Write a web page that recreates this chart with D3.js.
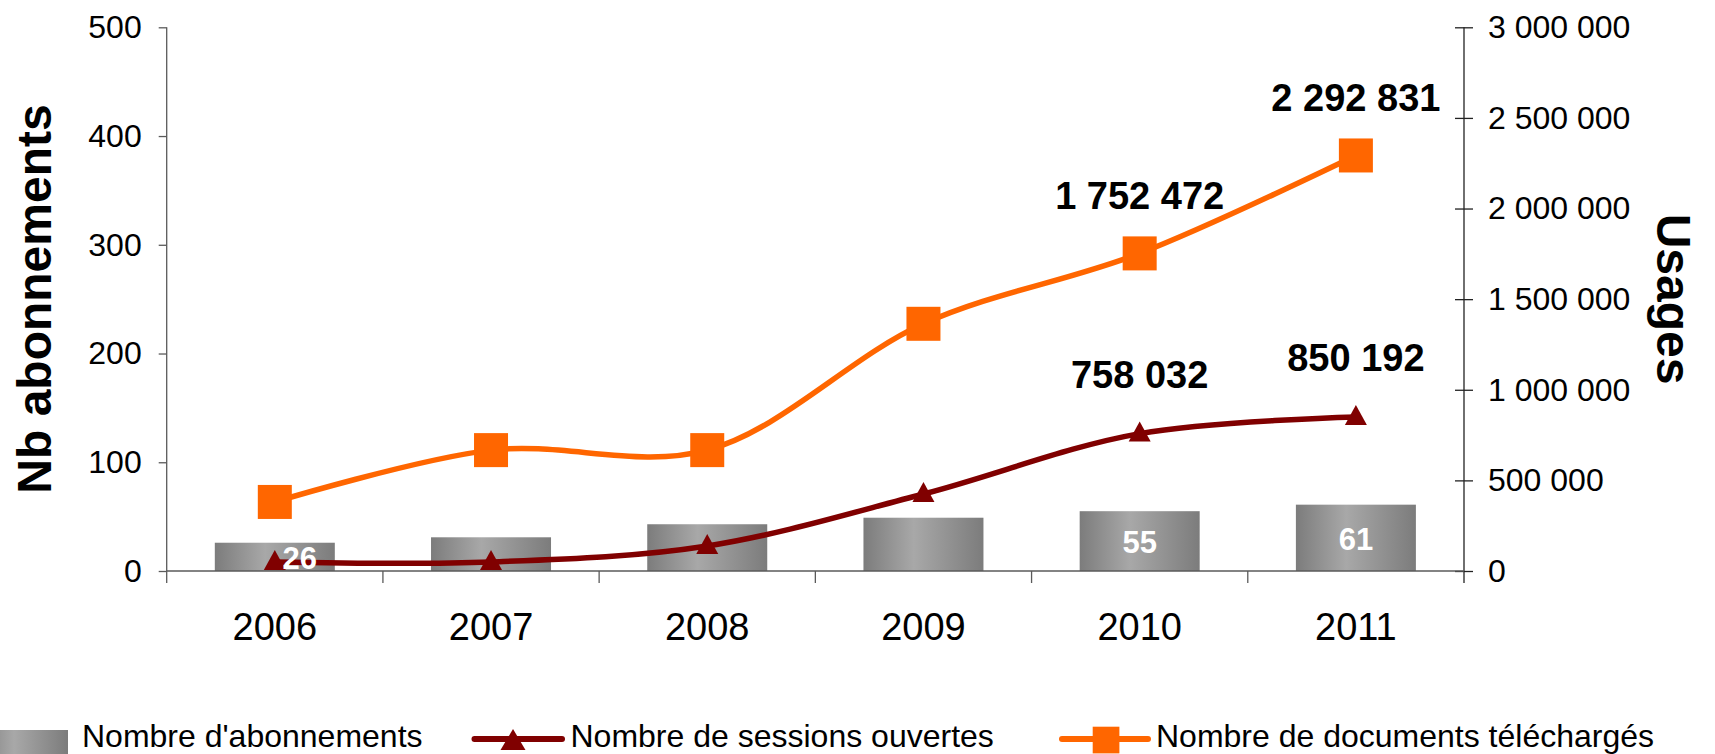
<!DOCTYPE html>
<html>
<head>
<meta charset="utf-8">
<script src="https://cdn.jsdelivr.net/npm/d3@7"></script>
<style>
  html, body { margin: 0; padding: 0; background: #fff; }
  svg { display: block; font-family: "Liberation Sans", Arial, sans-serif; }
</style>
</head>
<body>
<svg id="chart" width="1715" height="754"></svg>
<script>
// ---- data ----
const years = ["2006", "2007", "2008", "2009", "2010", "2011"];
const abonnements = [26, 31, 43, 49, 55, 61];
const abonnementsLabels = ["26", "", "", "", "55", "61"];
const sessions = [50000, 50000, 138000, 425000, 758032, 850192];
const sessionsLabels = ["", "", "", "", "758 032", "850 192"];
const documents = [381000, 667000, 667000, 1364000, 1752472, 2292831];
const documentsLabels = ["", "", "", "", "1 752 472", "2 292 831"];
const leftTicks = [0, 100, 200, 300, 400, 500];
const rightTicks = [0, 500000, 1000000, 1500000, 2000000, 2500000, 3000000];
const legendLabels = ["Nombre d'abonnements", "Nombre de sessions ouvertes", "Nombre de documents téléchargés"];
const leftTitle = "Nb abonnements";
const rightTitle = "Usages";

(function () {
// ---- layout ----
const pLeft = 166.7, pRight = 1464, pTop = 27.3, pBottom = 571;
const svg = d3.select("#chart");

const x = d3.scaleBand().domain(years).range([pLeft, pRight]).paddingInner(0).paddingOuter(0);
const yL = d3.scaleLinear().domain([0, 500]).range([pBottom, pTop]);
const yR = d3.scaleLinear().domain([0, 3000000]).range([pBottom, pTop]);
const cx = d => x(d) + x.bandwidth() / 2;
const fmtSpace = v => d3.format(",")(v).replace(/,/g, " ");

// gradients
const defs = svg.append("defs");
const g1 = defs.append("linearGradient").attr("id", "barGrad").attr("x1", "0%").attr("x2", "100%").attr("y1", "0%").attr("y2", "0%");
g1.append("stop").attr("offset", "0%").attr("stop-color", "#7c7c7c");
g1.append("stop").attr("offset", "42%").attr("stop-color", "#a8a8a8");
g1.append("stop").attr("offset", "100%").attr("stop-color", "#7c7c7c");

// ---- bars ----
const barW = 120;
svg.append("g").selectAll("rect").data(years).join("rect")
  .attr("x", d => cx(d) - barW / 2)
  .attr("width", barW)
  .attr("y", (d, i) => yL(abonnements[i]))
  .attr("height", (d, i) => yL(0) - yL(abonnements[i]))
  .attr("fill", "url(#barGrad)");

// ---- axes ----
const axisColor = "#5a5a5a";
const gl = svg.append("g").attr("transform", `translate(${pLeft},0)`)
  .call(d3.axisLeft(yL).tickValues(leftTicks).tickSize(8).tickPadding(17).tickFormat(d3.format("d")));
gl.select(".domain").remove();
gl.selectAll(".tick line").attr("stroke", axisColor).attr("stroke-width", 1.3);
gl.selectAll(".tick text").attr("font-size", 32).attr("fill", "#000").attr("font-family", "Liberation Sans, Arial, sans-serif");
svg.append("line").attr("x1", pLeft).attr("x2", pLeft).attr("y1", pTop).attr("y2", pBottom + 12)
  .attr("stroke", axisColor).attr("stroke-width", 1.3);

const gr = svg.append("g").attr("transform", `translate(${pRight},0)`)
  .call(d3.axisRight(yR).tickValues(rightTicks).tickSize(9).tickPadding(15).tickFormat(fmtSpace));
gr.select(".domain").remove();
gr.selectAll(".tick line").attr("x1", -9).attr("x2", 9).attr("stroke", "#222").attr("stroke-width", 1.3);
gr.selectAll(".tick text").attr("font-size", 32).attr("fill", "#000").attr("font-family", "Liberation Sans, Arial, sans-serif");
svg.append("line").attr("x1", pRight).attr("x2", pRight).attr("y1", pTop).attr("y2", pBottom + 12)
  .attr("stroke", "#222").attr("stroke-width", 1.3);

svg.append("line").attr("x1", pLeft).attr("x2", pRight).attr("y1", pBottom).attr("y2", pBottom)
  .attr("stroke", axisColor).attr("stroke-width", 1.5);
svg.append("g").selectAll("line").data(years.slice(1)).join("line")
  .attr("x1", d => x(d)).attr("x2", d => x(d))
  .attr("y1", pBottom).attr("y2", pBottom + 12)
  .attr("stroke", axisColor).attr("stroke-width", 1.3);
svg.append("g").selectAll("text").data(years).join("text")
  .attr("x", d => cx(d)).attr("y", 640)
  .attr("text-anchor", "middle").attr("font-size", 38).attr("fill", "#000")
  .text(d => d);

svg.append("text").attr("transform", `translate(51,299) rotate(-90)`)
  .attr("text-anchor", "middle").attr("font-size", 48).attr("font-weight", "bold").text(leftTitle);
svg.append("text").attr("transform", `translate(1657,299) rotate(90)`)
  .attr("text-anchor", "middle").attr("font-size", 48).attr("font-weight", "bold").text(rightTitle);

// ---- lines ----
const curve = d3.curveCatmullRom.alpha(0.5);
const lineR = d3.line().x(d => cx(d[0])).y(d => yR(d[1])).curve(curve);
const sessPts = years.map((y, i) => [y, sessions[i]]);
const docPts = years.map((y, i) => [y, documents[i]]);

svg.append("path").attr("d", lineR(sessPts)).attr("fill", "none")
  .attr("stroke", "#800000").attr("stroke-width", 5.5).attr("stroke-linejoin", "round");
svg.append("g").selectAll("path").data(sessPts).join("path")
  .attr("transform", d => `translate(${cx(d[0])},${yR(d[1])})`)
  .attr("d", "M0,-12L11,8L-11,8Z").attr("fill", "#800000");

svg.append("path").attr("d", lineR(docPts)).attr("fill", "none")
  .attr("stroke", "#FF6600").attr("stroke-width", 5.5).attr("stroke-linejoin", "round");
const sq = 34;
svg.append("g").selectAll("rect").data(docPts).join("rect")
  .attr("x", d => cx(d[0]) - sq / 2).attr("y", d => yR(d[1]) - sq / 2)
  .attr("width", sq).attr("height", sq).attr("fill", "#FF6600");

// ---- data labels ----
svg.append("g").selectAll("text").data(years).join("text")
  .attr("x", d => cx(d)).attr("y", (d, i) => yR(sessions[i]) - 46)
  .attr("text-anchor", "middle").attr("font-size", 38).attr("font-weight", "bold")
  .text((d, i) => sessionsLabels[i]);
svg.append("g").selectAll("text").data(years).join("text")
  .attr("x", d => cx(d)).attr("y", (d, i) => yR(documents[i]) - 44)
  .attr("text-anchor", "middle").attr("font-size", 38).attr("font-weight", "bold")
  .text((d, i) => documentsLabels[i]);
svg.append("g").selectAll("text").data(years).join("text")
  .attr("x", (d, i) => cx(d) + (i === 0 ? 25 : 0))
  .attr("y", (d, i) => (yL(abonnements[i]) + yL(0)) / 2 + 12)
  .attr("text-anchor", "middle").attr("font-size", 31).attr("font-weight", "bold").attr("fill", "#fff")
  .text((d, i) => abonnementsLabels[i]);

// ---- legend ----
const lg = svg.append("g");
lg.append("rect").attr("x", -25).attr("y", 730).attr("width", 93).attr("height", 30).attr("fill", "url(#barGrad)");
lg.append("text").attr("x", 82).attr("y", 747).attr("font-size", 32).text(legendLabels[0]);

lg.append("line").attr("x1", 474.5).attr("x2", 562).attr("y1", 739).attr("y2", 739)
  .attr("stroke", "#800000").attr("stroke-width", 6).attr("stroke-linecap", "round");
lg.append("path").attr("transform", "translate(513,742)").attr("d", "M0,-13L12.5,8L-12.5,8Z").attr("fill", "#800000");
lg.append("text").attr("x", 570.5).attr("y", 747).attr("font-size", 32).text(legendLabels[1]);

lg.append("line").attr("x1", 1062).attr("x2", 1148).attr("y1", 739).attr("y2", 739)
  .attr("stroke", "#FF6600").attr("stroke-width", 6).attr("stroke-linecap", "round");
lg.append("rect").attr("x", 1092.7).attr("y", 726.7).attr("width", 26.7).attr("height", 26.7).attr("fill", "#FF6600");
lg.append("text").attr("x", 1156).attr("y", 747).attr("font-size", 32).text(legendLabels[2]);
})();
</script>
</body>
</html>
